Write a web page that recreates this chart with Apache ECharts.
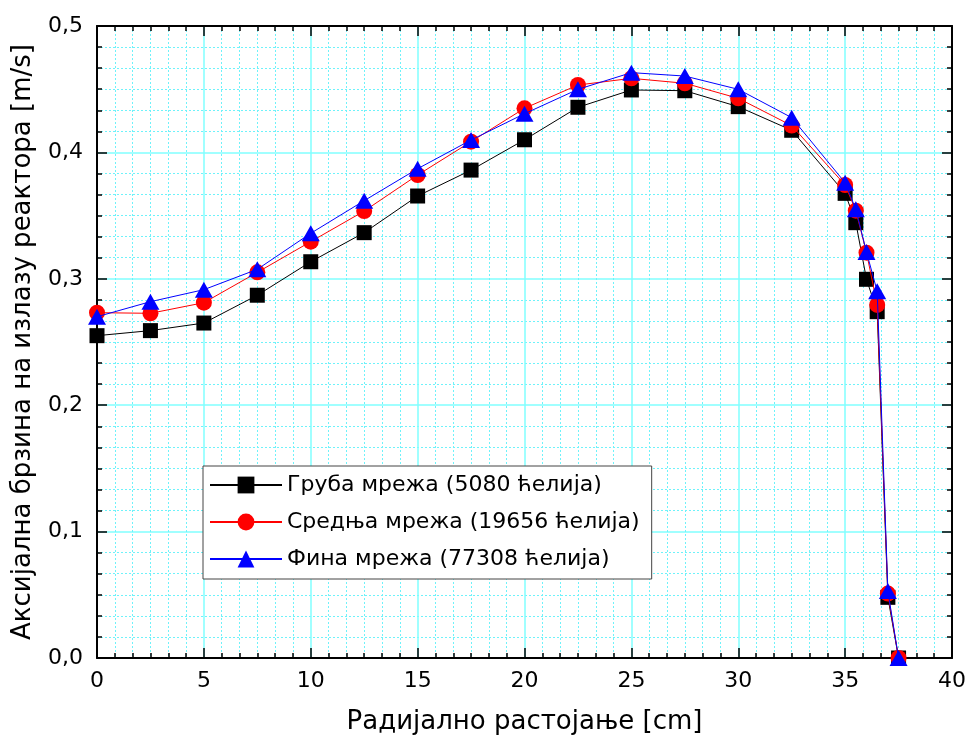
<!DOCTYPE html>
<html>
<head>
    <meta charset="UTF-8">
    <title>Аксијална брзина</title>
    <script src="https://cdn.jsdelivr.net/npm/echarts@6/dist/echarts.min.js"></script>
</head>
<body style="margin:0; background:#fff;">
<div id="chart" style="width:970px; height:740px;"></div>
<script>
    // радијалне позиције [cm]
    var xs = [0, 2.5, 5, 7.5, 10, 12.5, 15, 17.5, 20, 22.5, 25, 27.5, 30, 32.5, 35, 35.5, 36, 36.5, 37, 37.5];
    // брзине [m/s]
    var coarse = [0.255, 0.259, 0.265, 0.287, 0.3135, 0.3365, 0.3655, 0.386, 0.41, 0.4357, 0.4494, 0.4488, 0.4362, 0.4175, 0.3676, 0.3444, 0.2996, 0.274, 0.048, 0];
    var medium = [0.2732, 0.2727, 0.2811, 0.3051, 0.3294, 0.3536, 0.3821, 0.4085, 0.4349, 0.4533, 0.4586, 0.4547, 0.4428, 0.4212, 0.3742, 0.3539, 0.3207, 0.2793, 0.051, 0];
    var fine = [0.270, 0.2819, 0.2914, 0.3075, 0.336, 0.3618, 0.3871, 0.4098, 0.4306, 0.4499, 0.4631, 0.4604, 0.4499, 0.4275, 0.376, 0.355, 0.3212, 0.2901, 0.053, 0];
    var names = ['Груба мрежа (5080 ћелија)', 'Средња мрежа (19656 ћелија)', 'Фина мрежа (77308 ћелија)'];

    var font = 'DejaVu Sans';

    function pairs(vals) {
        return xs.map(function (x, i) { return [x, vals[i]]; });
    }

    function comma(v) {
        return v.toFixed(1).replace('.', ',');
    }

    var chart = echarts.init(document.getElementById('chart'), null, {renderer: 'canvas'});

    var frameAxis = {
        axisLine: {show: true, onZero: false, lineStyle: {color: '#000', width: 2}},
        axisTick: {show: true, inside: true, length: 10, lineStyle: {color: '#000', width: 1.5}},
        minorTick: {show: true, splitNumber: 6, length: 5, lineStyle: {color: '#000', width: 1.5}}
    };
    var majorGrid = {show: true, lineStyle: {color: '#80ffff', width: 1.5}};
    var minorGrid = {show: true, lineStyle: {color: '#6ff2fa', width: 1, type: [2, 2]}};

    var option = {
        animation: false,
        backgroundColor: '#fff',
        grid: {left: 97, right: 18, top: 26, bottom: 82},
        legend: {
            orient: 'vertical',
            left: 203,
            top: 466,
            padding: [8, 12, 9, 6],
            itemGap: 15,
            itemWidth: 72,
            itemHeight: 21,
            backgroundColor: '#fff',
            borderColor: '#444',
            borderWidth: 1,
            textStyle: {fontFamily: font, fontSize: 22, color: '#000'},
            data: names
        },
        xAxis: [
            Object.assign({
                type: 'value', min: 0, max: 40, interval: 5,
                name: 'Радијално растојање [cm]',
                nameLocation: 'middle',
                nameGap: 51,
                nameTextStyle: {fontFamily: font, fontSize: 26, color: '#000'},
                axisLabel: {fontFamily: font, fontSize: 22, color: '#000', margin: 12},
                splitLine: majorGrid,
                minorSplitLine: minorGrid
            }, frameAxis),
            Object.assign({
                type: 'value', min: 0, max: 40, interval: 5, position: 'top',
                axisLabel: {show: false},
                splitLine: {show: false}
            }, frameAxis)
        ],
        yAxis: [
            Object.assign({
                type: 'value', min: 0, max: 0.5, interval: 0.1,
                name: 'Аксијална брзина на излазу реактора [m/s]',
                nameLocation: 'middle',
                nameGap: 61,
                nameTextStyle: {fontFamily: font, fontSize: 26, color: '#000'},
                axisLabel: {fontFamily: font, fontSize: 22, color: '#000', margin: 14, formatter: comma},
                splitLine: majorGrid,
                minorSplitLine: minorGrid
            }, frameAxis),
            Object.assign({
                type: 'value', min: 0, max: 0.5, interval: 0.1, position: 'right',
                axisLabel: {show: false},
                splitLine: {show: false}
            }, frameAxis)
        ],
        series: [
            {
                name: names[0], type: 'line', data: pairs(coarse),
                symbol: 'rect', symbolSize: 15,
                lineStyle: {color: '#000', width: 1},
                itemStyle: {color: '#000'},
                z: 3
            },
            {
                name: names[1], type: 'line', data: pairs(medium),
                symbol: 'circle', symbolSize: 16,
                lineStyle: {color: '#ff0000', width: 1},
                itemStyle: {color: '#ff0000'},
                z: 4
            },
            {
                name: names[2], type: 'line', data: pairs(fine),
                symbol: 'triangle', symbolSize: [18, 16],
                lineStyle: {color: '#0000ff', width: 1},
                itemStyle: {color: '#0000ff'},
                z: 5
            }
        ]
    };

    chart.setOption(option);
</script>
</body>
</html>
